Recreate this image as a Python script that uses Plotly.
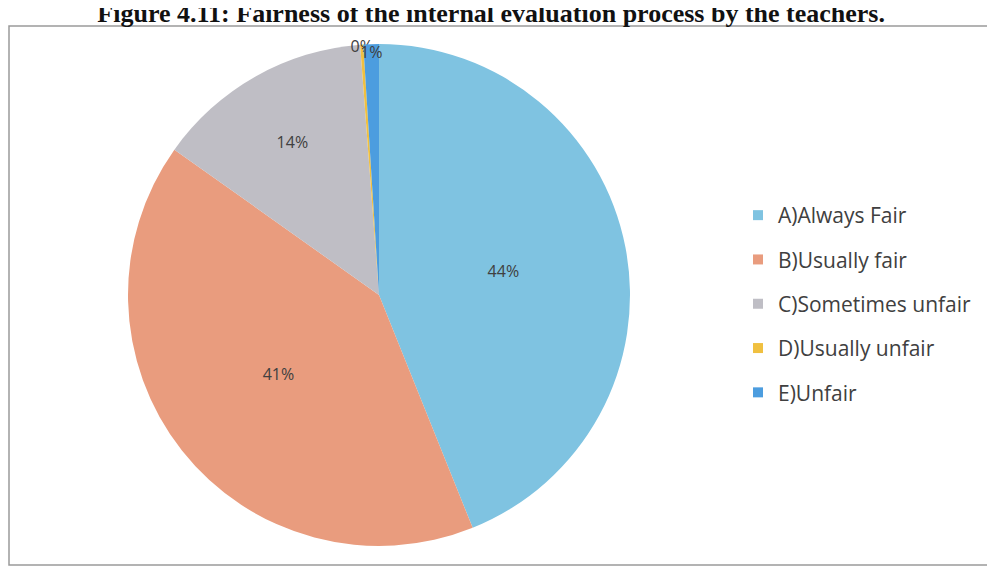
import plotly.graph_objects as go

categories = ["A)Always Fair", "B)Usually fair", "C)Sometimes unfair", "D)Usually unfair", "E)Unfair"]
values = [44, 41, 14, 0.2, 1]
colors = ["#7fc3e1", "#e99c7e", "#bfbec5", "#f0c040", "#4c9ddf"]
title_text = "Figure 4.11: Fairness of the internal evaluation process by the teachers."

W, H = 995, 583
OFF = 8  # page body margin
cx, cy, r = 379 - OFF, 295 - OFF, 251

fig = go.Figure()
fig.add_trace(go.Pie(
    labels=categories,
    values=values,
    sort=False,
    direction="clockwise",
    rotation=0,
    marker=dict(colors=colors, line=dict(width=0)),
    texttemplate="%{percent:.0%}",
    textposition="inside",
    insidetextorientation="horizontal",
    textfont=dict(family="Open Sans", size=16, color="#404040"),
    domain=dict(x=[(cx - r) / W, (cx + r) / W], y=[(H - cy - r) / H, (H - cy + r) / H]),
    hoverinfo="label+percent",
    showlegend=False,
))

# legend entries (one group per category for Excel-like spacing)
for i, (name, col) in enumerate(zip(categories, colors)):
    fig.add_trace(go.Scatter(
        x=[None], y=[None], mode="markers", name=name,
        marker=dict(symbol="square", size=10, color=col),
        legendgroup="g%d" % i, showlegend=True, hoverinfo="skip",
    ))

fig.update_xaxes(visible=False)
fig.update_yaxes(visible=False)

fig.update_layout(
    width=W, height=H,
    margin=dict(l=0, r=0, t=0, b=0),
    paper_bgcolor="white",
    plot_bgcolor="rgba(0,0,0,0)",
    uniformtext=dict(minsize=16, mode="show"),
    showlegend=True,
    legend=dict(
        x=(738 - OFF) / W, y=1 - (195 - OFF) / H, xanchor="left", yanchor="top",
        font=dict(family="Open Sans", size=21, color="#404040"),
        itemwidth=30, tracegroupgap=14, traceorder="grouped",
        bgcolor="rgba(0,0,0,0)",
    ),
    title=dict(
        text="<b>" + title_text + "</b>",
        x=(885 - OFF) / W, xanchor="right", xref="paper",
        y=1 - (13 - OFF) / H, yanchor="middle", yref="paper",
        font=dict(family="Liberation Serif", size=26, color="#111111"),
    ),
    shapes=[dict(
        type="rect", xref="paper", yref="paper",
        x0=(9 - OFF) / W, x1=(990 - OFF) / W, y0=1 - (565 - OFF) / H, y1=1 - (26 - OFF) / H,
        line=dict(color="#9a9a9a", width=1.5), fillcolor="rgba(0,0,0,0)",
        layer="below",
    )],
)

fig.write_html("out.html")
